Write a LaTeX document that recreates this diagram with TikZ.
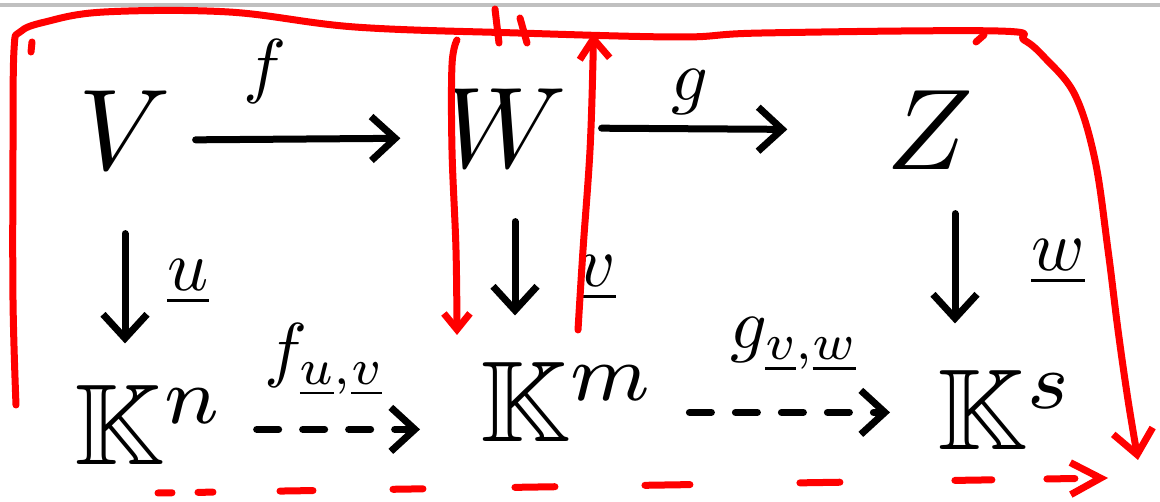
\documentclass[tikz,border=0pt]{standalone}
\usepackage{amssymb}
\usetikzlibrary{arrows.meta}
\begin{document}
\begin{tikzpicture}[x=1pt,y=-1pt,
  obj/.style={inner sep=0pt,scale=11.5},
  lab/.style={inner sep=0pt,scale=7.2},
  arr/.style={line width=7pt,line cap=round,-{Straight Barb[length=24pt,width=44pt]}},
  darr/.style={arr,dash pattern=on 22pt off 24pt},
  redl/.style={draw=red,line width=7pt,line cap=round,line join=round},
  redarr/.style={redl,-{Straight Barb[length=24pt,width=40pt]}}
]
\useasboundingbox (0,0) rectangle (1160,502);
% top grey rule
\draw[line width=4pt,color={rgb,255:red,192;green,192;blue,192}] (0,5) -- (1160,5);

% objects
\node[obj] (V) at (125,130) {$V$};
\node[obj] (W) at (505,128) {$W$};
\node[obj] (Z) at (930,130) {$Z$};
\node[obj,anchor=base west] (Kn) at (72,465) {$\mathbb{K}^n$};
\node[obj,anchor=base west] (Km) at (478,442) {$\mathbb{K}^m$};
\node[obj,anchor=base west] (Ks) at (935,450) {$\mathbb{K}^s$};

% labels
\node[lab] (lf) at (265,72) {$f$};
\node[lab] (lg) at (690,92) {$g$};
\node[lab] (lu) at (188,282) {$\underline{u}$};
\node[lab] (lv) at (597,278) {$\underline{v}$};
\node[lab] (lw) at (1058,262) {$\underline{w}$};
\node[lab] (lfuv) at (325,360) {$f_{\underline{u},\underline{v}}$};
\node[lab] (lgvw) at (795,345) {$g_{\underline{v},\underline{w}}$};

% horizontal arrows
\draw[arr,shorten <=22pt,shorten >=40pt] ([yshift=-10pt]V.east) -- ([yshift=-10pt]W.west);
\draw[arr,shorten <=32pt,shorten >=97pt] (W.east) -- (Z.west);
% vertical arrows
\draw[arr,shorten <=62pt,shorten >=40pt] (V.south) -- (V.south |- Kn.north);
\draw[arr,shorten <=52pt,shorten >=45pt] ([xshift=10pt]W.south) -- ([xshift=10pt]W.south |- Km.north);
\draw[arr,shorten <=42pt,shorten >=45pt] ([xshift=25pt]Z.south) -- ([xshift=25pt]Z.south |- Ks.north);
% dashed arrows
\draw[darr,shorten <=28pt,shorten >=58pt] ([yshift=-4pt]Kn.east) -- ([yshift=-4pt]Kn.east -| Km.west);
\draw[darr,shorten <=30pt,shorten >=45pt] ([yshift=-10pt]Km.east) -- ([yshift=-10pt]Km.east -| Ks.west);

% red annotations
\coordinate (rl0) at (16,405);
\coordinate (rl1) at (1138,460);
\draw[redarr] plot[smooth,tension=0.6] coordinates {(rl0) (13,300) (13,150) (14,50) (20,32) (45,22) (104,12) (229,12) (355,27) (518,33) (680,37) (762,33) (998,31) (1024,40) (1045,58) (1075,95) (1095,160) (1108,250) (1118,330) (1128,400) (rl1)};
\coordinate (rm0) at (457,40);
\coordinate (rm1) at (457,335);
\draw[redl,-{Straight Barb[length=16pt,width=26pt]}] plot[smooth,tension=0.6] coordinates {(rm0) (452,65) (452,150) (456,250) (rm1)};
\coordinate (rn0) at (578,330);
\coordinate (rn1) at (593,33);
\draw[redl,-{Straight Barb[length=20pt,width=30pt]}] plot[smooth,tension=0.6] coordinates {(rn0) (583,250) (590,150) (593,60) (rn1)};
\coordinate (t1a) at (495,9);  \coordinate (t1b) at (499,43);
\coordinate (t2a) at (520,18); \coordinate (t2b) at (527,43);
\draw[redl] (t1a) -- (t1b);
\draw[redl] (t2a) -- (t2b);
\coordinate (d0) at (32,42); \coordinate (d1) at (31,52);
\draw[redl] (d0) -- (d1);
\coordinate (k0) at (976,42); \coordinate (k1) at (984,35);
\draw[redl] (k0) -- (k1);
\coordinate (b0) at (158,493);
\coordinate (b1) at (1108,478);
\draw[redl,dash pattern=on 14pt off 26pt on 15pt off 67pt on 33pt off 80pt on 30pt off 92pt on 40pt off 90pt on 45pt off 110pt on 40pt off 115pt on 37pt off 55pt on 28pt off 200pt,-{Straight Barb[length=30pt,width=32pt]}] (b0) -- (b1);
\end{tikzpicture}
\end{document}
